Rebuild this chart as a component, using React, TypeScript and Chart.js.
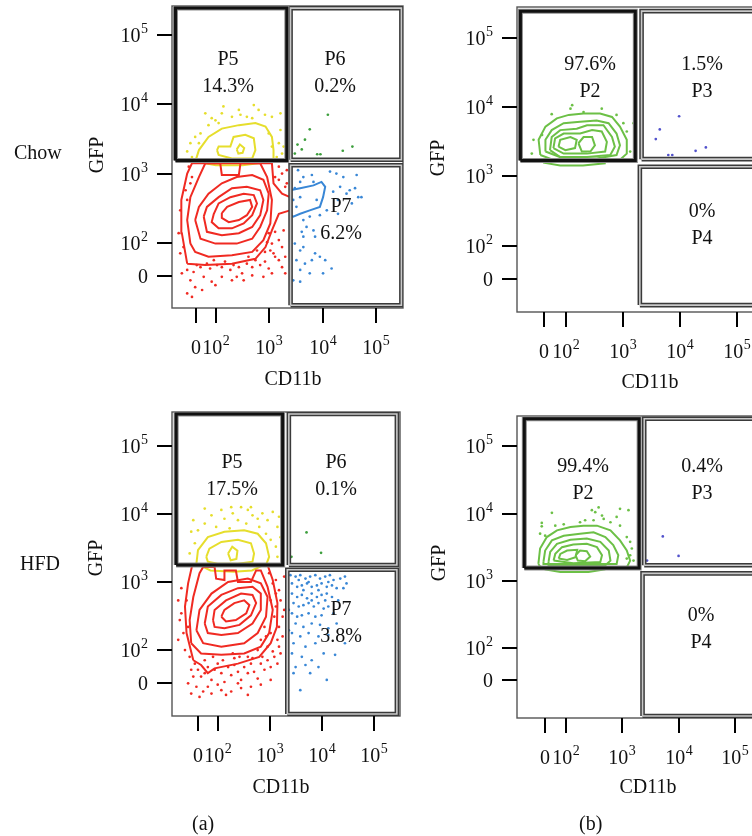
import React, { useEffect, useRef } from "react";
import { Chart, registerables } from "chart.js";
Chart.register(...registerables);

type P = [number, number];

// ---------- axis ticks (display decades; "0" sits below 10^2) ----------
const X_TICKS = [1.62, 2, 3, 4, 5];
const Y_TICKS = [1.52, 2, 3, 4, 5];
const TICK_BASE = ["0", "10", "10", "10", "10"];
const TICK_EXP = ["", "2", "3", "4", "5"];
const X_TITLE = "CD11b";
const Y_TITLE = "GFP";
const ROW_LABELS = ["Chow", "HFD"];
const COL_LABELS = ["(a)", "(b)"];

// ---------- Chow, panel (a) ----------
const CHOW_A_RED_RINGS: P[][] = [
  [[2.11,2.43],[2.21,2.52],[2.43,2.59],[2.64,2.62],[2.68,2.52],[2.58,2.40],[2.43,2.33],[2.24,2.30],[2.11,2.36]],
  [[1.96,2.42],[2.05,2.57],[2.27,2.66],[2.52,2.71],[2.71,2.69],[2.77,2.57],[2.68,2.40],[2.52,2.28],[2.30,2.21],[2.05,2.21],[1.92,2.30]],
  [[1.77,2.38],[1.83,2.52],[2.05,2.66],[2.30,2.79],[2.58,2.81],[2.83,2.76],[2.89,2.62],[2.83,2.40],[2.68,2.23],[2.43,2.14],[2.11,2.11],[1.83,2.16]],
  [[1.61,2.33],[1.68,2.52],[1.86,2.71],[2.11,2.86],[2.39,2.95],[2.68,2.98],[2.89,2.91],[2.99,2.71],[2.96,2.47],[2.83,2.23],[2.68,2.06],[2.39,1.99],[1.99,1.99],[1.71,2.06]],
  [[1.52,1.99],[1.46,2.33],[1.52,2.66],[1.68,2.95],[1.80,3.15],[2.08,3.15],[2.11,2.98],[2.43,2.98],[2.46,3.15],[2.83,3.15],[2.96,2.95],[3.05,2.62],[3.02,2.28],[2.89,2.04],[2.68,1.87],[2.30,1.82],[1.86,1.80],[1.61,1.87]],
  [[1.46,1.70],[1.36,2.14],[1.35,2.62],[1.46,3.00],[1.55,3.15],[3.05,3.15],[3.08,2.86],[3.24,2.71],[3.39,2.66],[3.39,2.47],[3.18,2.42],[3.05,2.18],[2.93,1.94],[2.74,1.77],[2.30,1.70],[1.80,1.68]],
];
const CHOW_A_YELLOW_RINGS: P[][] = [
  [[2.39,3.35],[2.45,3.42],[2.53,3.37],[2.50,3.30],[2.42,3.29]],
  [[2.02,3.34],[2.05,3.39],[2.27,3.39],[2.33,3.53],[2.55,3.56],[2.71,3.51],[2.74,3.34],[2.68,3.22],[2.30,3.22],[2.05,3.27]],
];
const CHOW_A_YELLOW_OPEN: P[][] = [
  [[1.61,3.17],[1.68,3.34],[1.86,3.53],[2.11,3.65],[2.43,3.70],[2.74,3.73],[2.93,3.68],[3.05,3.53],[3.08,3.34],[3.08,3.17]],
  [[1.72,3.16],[2.00,3.12],[2.50,3.12],[2.90,3.16]],
];
const CHOW_A_BLUE_RINGS: P[][] = [
  [[3.39,2.76],[3.58,2.79],[3.83,2.83],[3.98,2.88],[4.05,2.81],[4.01,2.66],[3.95,2.52],[3.76,2.47],[3.58,2.42],[3.45,2.38],[3.39,2.40]],
];
const CHOW_A_RED_DOTS: P[] = [
  [1.36,1.56],[1.46,1.61],[1.52,1.46],[1.58,1.58],[1.64,1.68],[1.71,1.65],[1.77,1.51],[1.83,1.70],[1.89,1.63],[1.96,1.75],
  [2.02,1.68],[2.11,1.65],[2.17,1.73],[2.27,1.61],[2.33,1.68],[2.43,1.65],[2.49,1.56],[2.52,1.46],[2.58,1.70],[2.68,1.65],
  [2.74,1.75],[2.83,1.68],[2.92,1.73],[2.99,1.63],[3.05,1.56],[3.11,1.80],[3.18,1.75],[3.24,1.65],[3.30,1.56],[1.46,1.27],
  [1.61,1.36],[1.74,1.32],[1.92,1.44],[2.11,1.51],[2.30,1.46],[1.33,1.85],[1.39,1.94],[1.30,2.14],[1.33,2.47],[1.46,2.62],
  [1.52,2.86],[2.99,2.14],[3.05,1.99],[3.11,2.16],[3.18,2.04],[3.24,1.94],[3.08,1.85],[3.30,1.80],[3.02,1.89],[3.27,2.18],
  [2.96,2.01],[3.18,3.10],[3.24,3.00],[3.33,3.05],[3.11,2.95],[3.30,2.81],[3.18,2.91],[2.77,1.89],[2.92,1.87],[2.61,1.80],
  [1.49,3.10],[1.55,2.95],[1.43,2.76],[3.33,2.86],[1.55,1.22],[1.99,1.39],[2.68,1.53],[2.89,1.51],[2.39,1.51],
];
const CHOW_A_YELLOW_DOTS: P[] = [
  [1.80,3.87],[2.14,3.97],[2.71,3.99],[2.30,3.82],[1.99,3.77],[1.86,3.70],[2.46,3.85],[2.92,3.85],[3.05,3.82],[3.21,3.87],
  [3.21,3.63],[1.71,3.58],[1.61,3.53],[1.52,3.44],[1.46,3.32],[1.55,3.24],[3.18,3.44],[3.24,3.29],[2.99,3.58],[2.68,3.80],
  [2.11,3.87],[2.80,3.92],[2.43,3.92],[2.58,3.82],[2.05,3.73],[1.68,3.44],[3.05,3.39],[3.14,3.24],[3.27,3.39],[1.92,3.80],
];
const CHOW_A_BLUE_DOTS: P[] = [
  [3.54,3.05],[3.64,2.95],[3.80,2.98],[4.14,3.03],[4.26,3.00],[4.39,2.95],[4.64,2.98],[3.58,2.88],[3.83,2.88],[4.33,2.81],
  [4.51,2.76],[4.67,2.66],[4.73,2.66],[4.20,2.74],[3.48,2.79],[3.45,2.62],[3.51,2.52],[3.64,2.33],[3.76,2.38],[3.95,2.40],
  [4.08,2.47],[4.29,2.42],[3.70,2.23],[3.83,2.18],[3.61,2.16],[3.48,1.99],[3.58,1.89],[3.64,1.94],[3.86,1.85],[3.95,1.80],
  [3.51,1.75],[3.67,1.70],[4.05,1.75],[3.58,1.61],[3.76,1.56],[3.45,1.46],[3.58,1.44],[4.01,1.56],[4.17,1.63],[3.86,2.09],
  [4.29,2.62],[4.45,2.71],[4.55,2.57],[3.64,2.09],[3.80,1.75],[3.58,2.66],[3.89,2.62],[4.61,2.79],
];
const CHOW_A_GREEN_DOTS: P[] = [
  [4.10,3.85],[3.76,3.64],[3.67,3.49],[3.53,3.42],[3.61,3.35],[3.90,3.28],[3.96,3.28],[4.38,3.33],[4.56,3.39],[3.48,3.29],
];
const CHOW_A_GATES = [
  { name: "P5", pct: "14.3%", x: [1.24, 3.33], y: [3.19, 5.39] },
  { name: "P6", pct: "0.2%", x: [3.40, 5.48], y: [3.20, 5.39] },
  { name: "P7", pct: "6.2%", x: [3.40, 5.48], y: [1.10, 3.12] },
];

// ---------- Chow, panel (b) ----------
const CHOW_B_GREEN_RINGS: P[][] = [
  [[1.55,3.31],[1.52,3.53],[1.64,3.72],[1.84,3.84],[2.05,3.89],[2.31,3.91],[2.60,3.91],[2.81,3.86],[2.95,3.72],[3.07,3.53],[3.07,3.33],[2.95,3.24],[2.37,3.21],[1.78,3.24]],
  [[1.64,3.36],[1.64,3.53],[1.75,3.67],[1.96,3.77],[2.25,3.79],[2.54,3.81],[2.75,3.77],[2.89,3.62],[2.95,3.45],[2.89,3.31],[2.54,3.26],[1.96,3.26]],
  [[1.72,3.38],[1.75,3.57],[1.90,3.67],[2.19,3.69],[2.37,3.74],[2.66,3.74],[2.81,3.57],[2.86,3.43],[2.78,3.31],[2.37,3.28],[1.90,3.28]],
  [[1.78,3.41],[1.81,3.55],[1.96,3.62],[2.25,3.62],[2.46,3.67],[2.63,3.65],[2.72,3.50],[2.69,3.36],[2.37,3.33],[1.96,3.33]],
  [[1.87,3.43],[1.90,3.53],[2.08,3.57],[2.19,3.53],[2.16,3.41],[1.99,3.38]],
  [[2.22,3.48],[2.31,3.57],[2.46,3.57],[2.51,3.45],[2.43,3.36],[2.28,3.36]],
];
const CHOW_B_GREEN_OPEN: P[][] = [
  [[1.60,3.20],[1.90,3.16],[2.30,3.16],[2.70,3.19]],
];
const CHOW_B_GREEN_DOTS: P[] = [
  [2.08,3.98],[2.31,3.93],[2.63,3.98],[1.75,3.90],[2.89,3.89],[3.01,3.77],[3.19,3.77],[1.58,3.60],[1.43,3.53],[1.40,3.33],
  [3.13,3.36],[3.07,3.65],[2.11,4.03],
];
const CHOW_B_PURPLE_DOTS: P[] = [
  [3.99,3.87],[3.65,3.68],[3.58,3.54],[3.80,3.31],[3.87,3.31],[4.28,3.37],[4.46,3.42],
];
const CHOW_B_GATES = [
  { name: "P2", pct: "97.6%", x: [1.20, 3.22], y: [3.23, 5.39] },
  { name: "P3", pct: "1.5%", x: [3.33, 5.70], y: [3.25, 5.39] },
  { name: "P4", pct: "0%", x: [3.30, 5.70], y: [1.14, 3.14] },
];

// ---------- HFD, panel (a) ----------
const HFD_A_RED_RINGS: P[][] = [
  [[2.06,2.49],[2.12,2.59],[2.31,2.69],[2.50,2.73],[2.60,2.66],[2.54,2.54],[2.34,2.44],[2.15,2.42]],
  [[1.90,2.44],[1.93,2.59],[2.15,2.73],[2.44,2.83],[2.66,2.81],[2.73,2.69],[2.63,2.51],[2.41,2.37],[2.12,2.32],[1.93,2.34]],
  [[1.74,2.39],[1.80,2.64],[2.06,2.81],[2.38,2.91],[2.66,2.93],[2.82,2.83],[2.82,2.59],[2.66,2.39],[2.38,2.25],[2.06,2.22],[1.80,2.25]],
  [[1.58,2.29],[1.64,2.59],[1.87,2.83],[2.19,3.00],[2.57,3.05],[2.82,2.98],[2.95,2.78],[2.92,2.49],[2.76,2.25],[2.50,2.10],[2.06,2.05],[1.71,2.10]],
  [[1.48,2.10],[1.45,2.44],[1.52,2.78],[1.64,3.13],[1.71,3.22],[1.93,3.22],[1.96,3.05],[2.12,3.03],[2.12,3.17],[2.34,3.17],[2.38,3.00],[2.63,3.00],[2.73,3.17],[2.82,3.17],[2.95,2.93],[3.05,2.59],[2.98,2.25],[2.82,2.05],[2.50,1.95],[2.06,1.93],[1.67,1.95]],
  [[1.52,1.85],[1.39,2.25],[1.36,2.64],[1.42,2.98],[1.50,3.25],[2.95,3.25],[3.05,3.03],[3.14,2.69],[3.13,2.34],[3.01,2.10],[2.79,1.90],[2.38,1.80],[1.93,1.73],[1.80,1.66],[1.67,1.78]],
];
const HFD_A_YELLOW_RINGS: P[][] = [
  [[2.19,3.42],[2.27,3.52],[2.37,3.46],[2.35,3.34],[2.24,3.32]],
  [[1.77,3.37],[1.83,3.49],[2.06,3.59],[2.38,3.62],[2.63,3.57],[2.69,3.42],[2.66,3.30],[2.38,3.27],[1.99,3.27],[1.80,3.30]],
];
const HFD_A_YELLOW_OPEN: P[][] = [
  [[1.58,3.27],[1.61,3.47],[1.80,3.66],[2.12,3.74],[2.50,3.76],[2.76,3.71],[2.92,3.57],[2.98,3.37],[2.92,3.25]],
  [[1.66,3.24],[1.85,3.17],[2.30,3.15],[2.65,3.17],[2.85,3.24]],
];
const HFD_A_RED_DOTS: P[] = [
  [1.29,2.91],[1.23,2.73],[1.26,2.44],[1.33,2.25],[1.23,2.15],[1.36,2.00],[1.29,2.54],[1.45,1.90],[1.55,1.80],[1.61,1.71],
  [1.67,1.61],[1.74,1.66],[1.80,1.75],[1.87,1.56],[1.93,1.71],[1.99,1.80],[2.06,1.66],[2.12,1.53],[2.19,1.75],[2.25,1.63],
  [2.31,1.78],[2.38,1.68],[2.44,1.56],[2.50,1.75],[2.57,1.66],[2.63,1.80],[2.69,1.68],[2.76,1.58],[2.82,1.80],[2.89,1.71],
  [2.95,1.85],[3.01,1.75],[3.08,1.90],[3.14,1.80],[3.20,1.95],[1.52,1.61],[1.58,1.46],[1.71,1.39],[1.87,1.36],[2.06,1.41],
  [2.25,1.39],[2.44,1.44],[2.63,1.46],[2.82,1.49],[3.01,1.56],[1.48,1.36],[1.64,1.31],[1.80,1.46],[1.99,1.49],[2.15,1.34],
  [2.38,1.51],[2.57,1.34],[2.98,3.13],[3.05,2.98],[3.11,3.03],[3.17,2.88],[3.01,2.73],[3.11,2.64],[3.20,2.73],[3.08,2.49],
  [3.17,2.34],[3.01,2.25],[3.14,2.15],[2.95,2.05],[3.24,2.49],[2.89,2.34],[2.82,2.15],[2.76,2.00],[3.05,1.98],[3.17,2.05],
  [3.24,2.20],[1.39,2.73],[1.42,2.34],[2.57,1.90],[2.41,1.90],[2.31,1.88],[1.48,1.71],[1.42,1.51],[3.27,3.08],[3.11,2.83],
  [3.27,2.59],[2.92,2.20],[1.74,1.85],[1.90,1.90],[2.09,1.85],[2.28,1.95],[2.66,1.88],[2.85,1.90],
];
const HFD_A_YELLOW_DOTS: P[] = [
  [1.52,3.91],[1.74,4.08],[1.96,3.81],[2.12,3.93],[2.28,4.01],[2.38,3.91],[2.44,4.10],[2.57,4.06],[2.66,3.98],[2.76,3.93],
  [2.85,4.01],[2.95,3.91],[3.05,4.03],[3.14,3.81],[3.20,3.66],[3.11,3.52],[3.01,3.62],[1.48,3.74],[1.55,3.57],[1.45,3.42],
  [1.74,3.86],[1.87,3.98],[2.06,4.06],[2.54,3.86],[2.79,3.81],[2.92,3.71],[3.14,3.37],[1.61,3.76],[2.22,3.79],[2.63,4.10],
  [2.25,4.10],[3.17,3.96],
];
const HFD_A_BLUE_DOTS: P[] = [
  [3.39,3.10],[3.49,3.08],[3.58,3.10],[3.68,3.05],[3.77,3.08],[3.87,3.10],[3.96,3.05],[4.06,3.08],[4.15,3.10],[4.22,3.03],
  [4.35,3.05],[4.44,3.08],[3.42,2.98],[3.52,2.93],[3.61,2.95],[3.71,2.98],[3.80,2.93],[3.90,2.95],[3.99,2.98],[4.09,2.93],
  [4.19,2.95],[4.28,2.91],[4.41,2.91],[4.47,2.98],[3.42,2.83],[3.52,2.78],[3.61,2.81],[3.71,2.76],[3.80,2.83],[3.90,2.78],
  [3.99,2.81],[4.09,2.83],[4.19,2.78],[3.45,2.69],[3.55,2.64],[3.64,2.66],[3.74,2.69],[3.84,2.64],[3.93,2.69],[4.03,2.61],
  [4.12,2.64],[3.42,2.54],[3.52,2.49],[3.61,2.51],[3.74,2.54],[3.87,2.49],[3.99,2.51],[4.22,2.54],[3.49,2.39],[3.64,2.34],
  [3.80,2.39],[3.96,2.37],[4.12,2.32],[4.28,2.39],[3.42,2.25],[3.58,2.20],[3.74,2.25],[3.93,2.20],[4.12,2.22],[4.44,2.10],
  [3.45,2.10],[3.68,2.05],[3.87,2.10],[4.25,1.93],[3.42,1.95],[3.61,1.90],[3.80,1.85],[4.03,1.95],[3.49,1.75],[3.68,1.78],
  [3.93,1.75],[4.09,1.56],[3.58,1.41],[3.77,1.66],[3.45,1.66],[3.36,2.29],[3.36,2.59],[3.55,3.03],[3.74,3.00],[4.12,3.00],
  [3.93,2.88],[4.06,2.73],[4.31,2.73],[3.80,2.73],[3.64,2.88],
];
const HFD_A_GREEN_DOTS: P[] = [[3.70,3.73],[3.98,3.43],[3.41,3.37]];
const HFD_A_GATES = [
  { name: "P5", pct: "17.5%", x: [1.19, 3.24], y: [3.25, 5.47] },
  { name: "P6", pct: "0.1%", x: [3.36, 5.44], y: [3.25, 5.47] },
  { name: "P7", pct: "3.8%", x: [3.33, 5.44], y: [1.06, 3.18] },
];

// ---------- HFD, panel (b) ----------
const HFD_B_GREEN_RINGS: P[][] = [
  [[1.51,3.25],[1.54,3.48],[1.66,3.65],[1.84,3.75],[2.08,3.80],[2.31,3.82],[2.55,3.82],[2.79,3.75],[2.96,3.60],[3.08,3.45],[3.14,3.30],[3.08,3.20],[1.55,3.20]],
  [[1.60,3.28],[1.63,3.45],[1.75,3.60],[1.96,3.67],[2.25,3.70],[2.49,3.72],[2.70,3.65],[2.84,3.53],[2.93,3.38],[2.90,3.25],[1.60,3.25]],
  [[1.69,3.28],[1.72,3.43],[1.84,3.55],[2.08,3.61],[2.37,3.63],[2.61,3.58],[2.76,3.45],[2.79,3.30],[2.70,3.23],[1.69,3.23]],
  [[1.78,3.30],[1.81,3.40],[1.93,3.50],[2.13,3.54],[2.37,3.55],[2.55,3.50],[2.64,3.38],[2.61,3.28],[2.13,3.26],[1.78,3.30]],
  [[1.87,3.33],[1.90,3.40],[2.02,3.45],[2.20,3.46],[2.17,3.35],[2.02,3.31]],
  [[2.17,3.38],[2.25,3.45],[2.37,3.44],[2.43,3.36],[2.34,3.29],[2.21,3.30]],
];
const HFD_B_GREEN_OPEN: P[][] = [
  [[1.62,3.17],[1.90,3.13],[2.40,3.13],[2.70,3.17]],
];
const HFD_B_GREEN_DOTS: P[] = [
  [1.75,4.01],[2.58,4.09],[2.96,4.07],[2.46,4.05],[2.64,3.97],[2.90,3.95],[3.11,4.05],[1.57,3.86],[1.57,3.81],[1.81,3.82],
  [1.96,3.84],[2.25,3.87],[2.34,3.90],[2.49,3.90],[2.67,3.92],[2.79,3.87],[2.96,3.82],[1.54,3.70],[1.63,3.67],[3.08,3.65],
  [3.14,3.58],[3.17,3.48],[3.14,3.38],[3.08,3.33],[3.20,3.30],[2.52,4.02],
];
const HFD_B_PURPLE_DOTS: P[] = [[3.72,3.66],[4.00,3.37],[3.44,3.30]];
const HFD_B_GATES = [
  { name: "P2", pct: "99.4%", x: [1.26, 3.30], y: [3.19, 5.41] },
  { name: "P3", pct: "0.4%", x: [3.39, 5.70], y: [3.23, 5.41] },
  { name: "P4", pct: "0%", x: [3.36, 5.70], y: [0.99, 3.11] },
];

// ---------- styling ----------
const FONT = '"Liberation Serif", "Times New Roman", "DejaVu Serif", serif';
const RED = "#f02a22";
const YELLOW = "#e6de2c";
const BLUE = "#3987d6";
const GREEN = "#6cc046";
const DARK_GREEN = "#3d9f3d";
const PURPLE = "#5252cc";
const CW = 800;
const CH = 836;

type Gate = { name: string; pct: string; x: number[]; y: number[] };
type Lbl = { lines: string[]; x: number; y: number };

const xy = (a: P[]) => a.map(([x, y]) => ({ x, y }));

function ringSet(r: P[], color: string, closed: boolean) {
  const d = closed ? [...r, r[0]] : r;
  return {
    data: xy(d), showLine: true, borderColor: color, borderWidth: 2,
    pointRadius: 0, tension: 0, fill: false, order: 2,
  };
}
function dotSet(d: P[], color: string) {
  return {
    data: xy(d), showLine: false, backgroundColor: color, borderWidth: 0,
    pointRadius: 1.35, order: 3,
  };
}
function gateSets(g: Gate, bold: boolean) {
  const d = xy([[g.x[0], g.y[0]], [g.x[1], g.y[0]], [g.x[1], g.y[1]], [g.x[0], g.y[1]], [g.x[0], g.y[0]]]);
  const base = { data: d, showLine: true, pointRadius: 0, tension: 0, fill: false, borderJoinStyle: "miter" };
  return bold
    ? [{ ...base, borderColor: "#8c8c8c", borderWidth: 5, order: 1 }, { ...base, borderColor: "#111", borderWidth: 3, order: 0 }]
    : [{ ...base, borderColor: "#3a3a3a", borderWidth: 4.6, order: 1 }, { ...base, borderColor: "#c9c9c9", borderWidth: 1.6, order: 0 }];
}

interface Panel {
  area: { l: number; t: number; r: number; b: number };
  xr: [number, number];
  yr: [number, number];
  datasets: any[];
  labels: Lbl[];
  xTitle: [number, number];
  yTitle: [number, number];
}

function buildSets(opts: {
  gates: Gate[]; bold: string;
  rings: [P[][], string][]; open: [P[][], string][]; dots: [P[], string][];
}) {
  const sets: any[] = [];
  opts.gates.forEach((g) => sets.push(...gateSets(g, g.name === opts.bold)));
  opts.rings.forEach(([rs, c]) => rs.forEach((r) => sets.push(ringSet(r, c, true))));
  opts.open.forEach(([rs, c]) => rs.forEach((r) => sets.push(ringSet(r, c, false))));
  opts.dots.forEach(([d, c]) => sets.push(dotSet(d, c)));
  return sets;
}

const PANELS: Panel[] = [
  {
    area: { l: 172, t: 6, r: 403, b: 308 }, xr: [1.175, 5.51], yr: [1.06, 5.42],
    datasets: buildSets({
      gates: CHOW_A_GATES, bold: "P5",
      rings: [[CHOW_A_RED_RINGS, RED], [CHOW_A_YELLOW_RINGS, YELLOW], [CHOW_A_BLUE_RINGS, BLUE]],
      open: [[CHOW_A_YELLOW_OPEN, YELLOW]],
      dots: [[CHOW_A_RED_DOTS, RED], [CHOW_A_YELLOW_DOTS, YELLOW], [CHOW_A_BLUE_DOTS, BLUE], [CHOW_A_GREEN_DOTS, DARK_GREEN]],
    }),
    labels: [
      { lines: [CHOW_A_GATES[0].name, CHOW_A_GATES[0].pct], x: 228, y: 60 },
      { lines: [CHOW_A_GATES[1].name, CHOW_A_GATES[1].pct], x: 335, y: 60 },
      { lines: [CHOW_A_GATES[2].name, CHOW_A_GATES[2].pct], x: 341, y: 207 },
    ],
    xTitle: [293, 380], yTitle: [98, 155],
  },
  {
    area: { l: 517, t: 7, r: 765, b: 312 }, xr: [1.14, 5.5], yr: [1.04, 5.45],
    datasets: buildSets({
      gates: CHOW_B_GATES, bold: "P2",
      rings: [[CHOW_B_GREEN_RINGS, GREEN]], open: [[CHOW_B_GREEN_OPEN, GREEN]],
      dots: [[CHOW_B_GREEN_DOTS, GREEN], [CHOW_B_PURPLE_DOTS, PURPLE]],
    }),
    labels: [
      { lines: [CHOW_B_GATES[0].pct, CHOW_B_GATES[0].name], x: 590, y: 65 },
      { lines: [CHOW_B_GATES[1].pct, CHOW_B_GATES[1].name], x: 702, y: 65 },
      { lines: [CHOW_B_GATES[2].pct, CHOW_B_GATES[2].name], x: 702, y: 212 },
    ],
    xTitle: [650, 383], yTitle: [439, 158],
  },
  {
    area: { l: 172, t: 412, r: 400, b: 716 }, xr: [1.11, 5.5], yr: [1.03, 5.5],
    datasets: buildSets({
      gates: HFD_A_GATES, bold: "P5",
      rings: [[HFD_A_RED_RINGS, RED], [HFD_A_YELLOW_RINGS, YELLOW]],
      open: [[HFD_A_YELLOW_OPEN, YELLOW]],
      dots: [[HFD_A_RED_DOTS, RED], [HFD_A_YELLOW_DOTS, YELLOW], [HFD_A_BLUE_DOTS, BLUE], [HFD_A_GREEN_DOTS, DARK_GREEN]],
    }),
    labels: [
      { lines: [HFD_A_GATES[0].name, HFD_A_GATES[0].pct], x: 232, y: 463 },
      { lines: [HFD_A_GATES[1].name, HFD_A_GATES[1].pct], x: 336, y: 463 },
      { lines: [HFD_A_GATES[2].name, HFD_A_GATES[2].pct], x: 341, y: 610 },
    ],
    xTitle: [281, 788], yTitle: [97, 558],
  },
  {
    area: { l: 517, t: 416, r: 763, b: 718 }, xr: [1.13, 5.5], yr: [0.96, 5.45],
    datasets: buildSets({
      gates: HFD_B_GATES, bold: "P2",
      rings: [[HFD_B_GREEN_RINGS, GREEN]], open: [[HFD_B_GREEN_OPEN, GREEN]],
      dots: [[HFD_B_GREEN_DOTS, GREEN], [HFD_B_PURPLE_DOTS, PURPLE]],
    }),
    labels: [
      { lines: [HFD_B_GATES[0].pct, HFD_B_GATES[0].name], x: 583, y: 467 },
      { lines: [HFD_B_GATES[1].pct, HFD_B_GATES[1].name], x: 702, y: 467 },
      { lines: [HFD_B_GATES[2].pct, HFD_B_GATES[2].name], x: 701, y: 616 },
    ],
    xTitle: [648, 788], yTitle: [440, 563],
  },
];

function makeDecor(p: Panel) {
  const drawTick = (ctx: CanvasRenderingContext2D, i: number, x: number, yBase: number, align: "right" | "center") => {
    ctx.font = `20px ${FONT}`;
    const wb = ctx.measureText(TICK_BASE[i]).width;
    ctx.font = `14px ${FONT}`;
    const we = TICK_EXP[i] ? ctx.measureText(TICK_EXP[i]).width + 0.5 : 0;
    const total = wb + we;
    const x0 = align === "right" ? x - total : x - total / 2;
    ctx.textAlign = "left";
    ctx.textBaseline = "alphabetic";
    ctx.font = `20px ${FONT}`;
    ctx.fillText(TICK_BASE[i], x0, yBase);
    if (TICK_EXP[i]) {
      ctx.font = `14px ${FONT}`;
      ctx.fillText(TICK_EXP[i], x0 + wb + 0.5, yBase - 9);
    }
  };
  return {
    id: "flowDecor",
    beforeDatasetsDraw(chart: any) {
      const { ctx, chartArea: a } = chart;
      ctx.save();
      ctx.fillStyle = "#fff";
      ctx.fillRect(a.left, a.top, a.right - a.left, a.bottom - a.top);
      ctx.strokeStyle = "#555";
      ctx.lineWidth = 1.4;
      ctx.strokeRect(a.left, a.top, a.right - a.left, a.bottom - a.top);
      ctx.restore();
    },
    afterDatasetsDraw(chart: any) {
      const { ctx, chartArea: a, scales } = chart;
      const xs = scales.x, ys = scales.y;
      ctx.save();
      ctx.strokeStyle = "#000";
      ctx.fillStyle = "#111";
      ctx.lineWidth = 2;
      Y_TICKS.forEach((v, i) => {
        const py = Math.round(ys.getPixelForValue(v));
        ctx.beginPath();
        ctx.moveTo(a.left - 15, py);
        ctx.lineTo(a.left, py);
        ctx.stroke();
        drawTick(ctx, i, a.left - 24, py + 7, "right");
      });
      X_TICKS.forEach((v, i) => {
        const px = Math.round(xs.getPixelForValue(v));
        ctx.beginPath();
        ctx.moveTo(px, a.bottom);
        ctx.lineTo(px, a.bottom + 15);
        ctx.stroke();
        drawTick(ctx, i, px, a.bottom + 46, "center");
      });
      ctx.font = `20px ${FONT}`;
      ctx.textAlign = "center";
      ctx.textBaseline = "middle";
      ctx.fillText(X_TITLE, p.xTitle[0], p.xTitle[1]);
      ctx.save();
      ctx.translate(p.yTitle[0], p.yTitle[1]);
      ctx.rotate(-Math.PI / 2);
      ctx.fillText(Y_TITLE, 0, 0);
      ctx.restore();
      p.labels.forEach((l) => {
        l.lines.forEach((t, k) => ctx.fillText(t, l.x, l.y + k * 27));
      });
      ctx.restore();
    },
  };
}

function PanelChart({ p }: { p: Panel }) {
  const ref = useRef<HTMLCanvasElement>(null);
  useEffect(() => {
    if (!ref.current) return;
    const chart = new Chart(ref.current, {
      type: "scatter",
      data: { datasets: p.datasets },
      options: {
        responsive: false,
        animation: false,
        devicePixelRatio: 1,
        events: [],
        layout: { padding: { left: p.area.l, top: p.area.t, right: CW - p.area.r, bottom: CH - p.area.b } },
        scales: {
          x: { type: "linear", min: p.xr[0], max: p.xr[1], display: false },
          y: { type: "linear", min: p.yr[0], max: p.yr[1], display: false },
        },
        plugins: { legend: { display: false }, tooltip: { enabled: false } },
      },
      plugins: [makeDecor(p)],
    } as any);
    return () => chart.destroy();
  }, [p]);
  return <canvas ref={ref} width={CW} height={CH} style={{ position: "absolute", left: 0, top: 0, width: CW, height: CH }} />;
}

const textStyle = (left: number, top: number): React.CSSProperties => ({
  position: "absolute", left, top, fontFamily: FONT, fontSize: 20, lineHeight: "22px", color: "#111", whiteSpace: "nowrap",
});

export default function App() {
  return (
    <div style={{ position: "absolute", left: 0, top: 0, width: 752, height: 836, overflow: "hidden", background: "#fff" }}>
      {PANELS.map((p, i) => <PanelChart key={i} p={p} />)}
      <div style={textStyle(14, 141)}>{ROW_LABELS[0]}</div>
      <div style={textStyle(20, 552)}>{ROW_LABELS[1]}</div>
      <div style={textStyle(192, 812)}>{COL_LABELS[0]}</div>
      <div style={textStyle(579, 812)}>{COL_LABELS[1]}</div>
    </div>
  );
}
